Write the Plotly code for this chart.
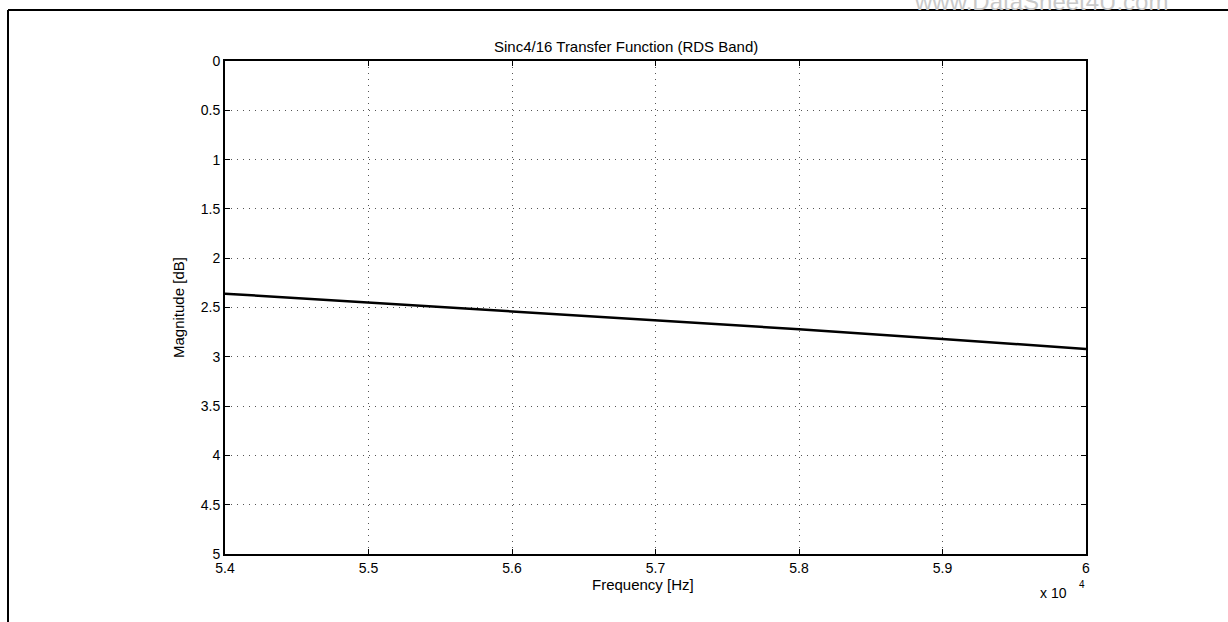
import plotly.graph_objects as go

# Data
freq_hz = [54000, 55000, 56000, 57000, 58000, 59000, 60000]
magnitude_db = [2.36, 2.45, 2.54, 2.63, 2.72, 2.82, 2.92]

x_tickvals = [54000, 55000, 56000, 57000, 58000, 59000, 60000]
x_ticktext = ["5.4", "5.5", "5.6", "5.7", "5.8", "5.9", "6"]
y_tickvals = [0, 0.5, 1, 1.5, 2, 2.5, 3, 3.5, 4, 4.5, 5]
y_ticktext = ["0", "0.5", "1", "1.5", "2", "2.5", "3", "3.5", "4", "4.5", "5"]

W, H = 1228, 622
L, R, T, B = 225, 1086, 61, 554

FONT = "Liberation Sans, Arial, Helvetica, sans-serif"

fig = go.Figure()
fig.add_trace(go.Scatter(x=freq_hz, y=magnitude_db, mode="lines",
                         line=dict(color="black", width=2.5), showlegend=False,
                         hoverinfo="skip"))

def px_x(p):
    return (p - L) / (R - L)

def px_y(p):
    return (B - p) / (B - T)

axis_common = dict(showline=True, linecolor="black", linewidth=2, mirror="ticks",
                   ticks="inside", ticklen=5, tickcolor="black", tickwidth=1,
                   showgrid=True, gridcolor="#555555", gridwidth=1,
                   griddash="1px,5px", zeroline=False,
                   tickfont=dict(family=FONT, size=14, color="black"))

fig.update_layout(
    width=W, height=H,
    margin=dict(l=L, r=W - R, t=T, b=H - B),
    paper_bgcolor="white", plot_bgcolor="white",
    xaxis=dict(range=[54000, 60000], tickvals=x_tickvals, ticktext=x_ticktext, **axis_common),
    yaxis=dict(range=[5, 0], tickvals=y_tickvals, ticktext=y_ticktext, **axis_common),
    font=dict(family=FONT, color="black"),
)

# outer frame: only top and left edges are visible in the page
fig.add_shape(type="line", xref="paper", yref="paper",
              x0=px_x(8), x1=px_x(1240), y0=px_y(10), y1=px_y(10),
              line=dict(color="black", width=2))
fig.add_shape(type="line", xref="paper", yref="paper",
              x0=px_x(8), x1=px_x(8), y0=px_y(10), y1=px_y(640),
              line=dict(color="black", width=2))

annotations = [
    dict(text="Sinc4/16 Transfer Function (RDS Band)", x=px_x(626), y=px_y(47),
         font=dict(size=15)),
    dict(text="Frequency [Hz]", x=px_x(643), y=px_y(584), font=dict(size=15)),
    dict(text="Magnitude [dB]", x=px_x(178), y=px_y(308), textangle=-90, font=dict(size=15)),
    dict(text="x 10", x=px_x(1069), y=px_y(593), xanchor="right", font=dict(size=14)),
    dict(text="4", x=px_x(1077), y=px_y(584), xanchor="left", font=dict(size=10)),
    dict(text="www.DataSheet4U.com", x=px_x(1170), y=px_y(1), xanchor="right",
         font=dict(size=24, color="#c9c9c9")),
]
for a in annotations:
    a.setdefault("xref", "paper")
    a.setdefault("yref", "paper")
    a.setdefault("showarrow", False)
    a.setdefault("yanchor", "middle")
    a.setdefault("xanchor", "center")
    fig.add_annotation(**a)

fig.write_html("out.html",
               config={"displayModeBar": False, "staticPlot": True},
               post_script="document.body.style.margin='0px';"
                           "document.body.style.overflow='hidden';")
